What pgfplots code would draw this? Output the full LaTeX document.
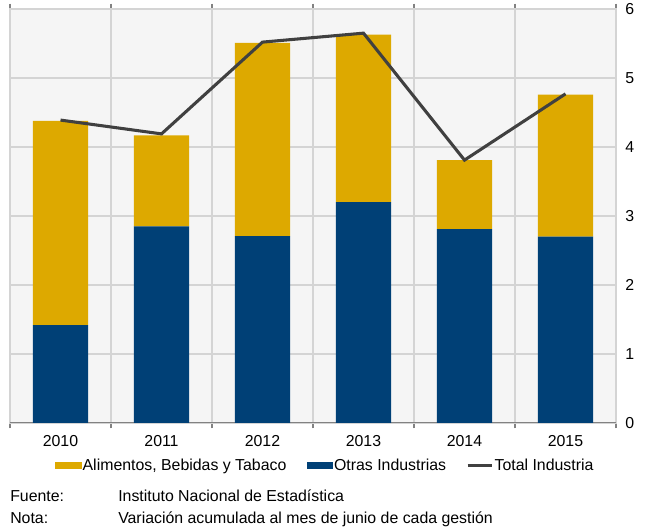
\documentclass[border=0pt]{standalone}
\usepackage{pgfplots}
\pgfplotsset{compat=1.18}
\usepackage{fontspec}
\setmainfont{Liberation Sans}
\definecolor{gold}{RGB}{221,169,0}
\definecolor{navy}{RGB}{0,64,118}
\definecolor{lineg}{RGB}{64,64,64}
\definecolor{bgg}{RGB}{245,245,245}
\definecolor{gridg}{RGB}{212,212,212}
\definecolor{axisg}{RGB}{130,130,130}

\pgfplotstableread{
x otras alim total
0 1.42 2.96 4.39
1 2.85 1.32 4.19
2 2.71 2.80 5.52
3 3.20 2.43 5.65
4 2.81 1.00 3.81
5 2.70 2.06 4.77
}\datos

\pgfplotsset{
  base/.style={
    scale only axis,
    width=454.5pt, height=310.5pt,
    xmin=-0.5, xmax=5.5, ymin=0, ymax=6,
    font=\fontsize{11.9}{14}\selectfont,
    /pgf/number format/assume math mode=true,
  },
}

\begin{document}
\begin{tikzpicture}
\useasboundingbox (-7.5pt,-78pt) rectangle (477.75pt,317.25pt);
\begin{axis}[
  base,
  name=main,
  ybar stacked,
  bar width=0.545,
  axis background/.style={fill=bgg},
  axis line style={draw=gridg, line width=0.8pt},
  xtick={0,...,5},
  xticklabels={2010,2011,2012,2013,2014,2015},
  minor xtick={-0.5,0.5,...,5.5},
  ytick={0,...,6},
  yticklabel pos=right,
  major tick length=0pt,
  minor tick length=4pt,
  tick align=outside,
  minor tick style={draw=axisg, line width=0.8pt},
  xminorgrids=true,
  ymajorgrids=true,
  grid style={draw=gridg, line width=0.8pt},
  xticklabel style={yshift=-6pt},
  yticklabel style={xshift=3.5pt},
  legend columns=3,
  legend style={draw=none, fill=none, at={(0.52,-0.104)}, anchor=center,
    font=\fontsize{11.9}{14}\selectfont,
    /tikz/every even column/.append style={column sep=14pt},
    nodes={inner sep=1.2pt}},
]
\addplot[fill=navy, draw=none, forget plot] table[x=x, y=otras] {\datos};
\addplot[fill=gold, draw=none, forget plot] table[x=x, y=alim] {\datos};
\addlegendimage{legend image code/.code={\fill[gold] (0pt,-2pt) rectangle (19pt,2.5pt);}}
\addlegendentry{Alimentos, Bebidas y Tabaco}
\addlegendimage{legend image code/.code={\fill[navy] (0pt,-2pt) rectangle (19pt,2.5pt);}}
\addlegendentry{Otras Industrias}
\addlegendimage{legend image code/.code={\draw[lineg, line width=2pt] (0pt,0.25pt) -- (18pt,0.25pt);}}
\addlegendentry{Total Industria}
\draw[axisg, line width=0.8pt] (rel axis cs:0,0) -- (rel axis cs:1,0);
\end{axis}
\begin{axis}[
  base,
  axis lines=none,
  xtick=\empty, ytick=\empty,
]
\addplot[lineg, line width=2.3pt, mark=none] table[x=x, y=total] {\datos};
\end{axis}
\begin{scope}[every node/.style={anchor=base west, inner sep=0pt, font=\fontsize{11.9}{14}\selectfont}]
\node at ([yshift=-59.25pt]main.south west) {Fuente:};
\node at ([xshift=81pt, yshift=-59.25pt]main.south west) {Instituto Nacional de Estadística};
\node at ([yshift=-75.75pt]main.south west) {Nota:};
\node at ([xshift=81pt, yshift=-75.75pt]main.south west) {Variación acumulada al mes de junio de cada gestión};
\end{scope}
\end{tikzpicture}
\end{document}
